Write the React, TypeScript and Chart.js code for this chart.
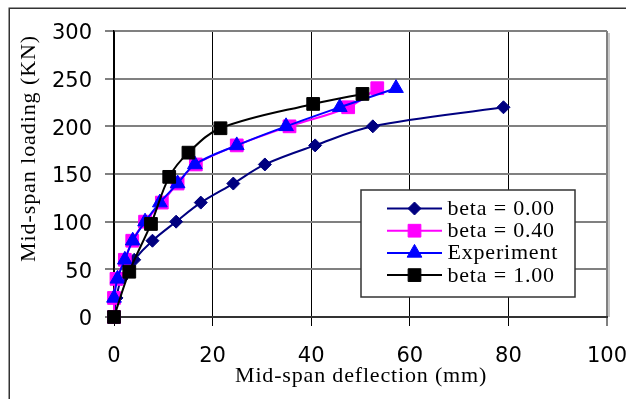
import React, { useEffect, useRef } from 'react';
import { Chart, registerables } from 'chart.js';

Chart.register(...registerables);

const seriesNames = ['beta = 0.00', 'beta = 0.40', 'Experiment', 'beta = 1.00'];
const xTitle = 'Mid-span deflection (mm)';
const yTitle = 'Mid-span loading (KN)';

const beta0X = [0, 0.5, 1.5, 4.1, 7.8, 12.6, 17.6, 24.2, 30.6, 40.8, 52.5, 79];
const beta0Y = [0, 20, 40, 60, 80, 100, 120, 140, 160, 180, 200, 220];

const beta04X = [0, 0, 0.5, 2.2, 3.7, 6.3, 9.7, 12.9, 16.6, 24.9, 35.6, 47.5, 53.4];
const beta04Y = [0, 20, 40, 60, 80, 100, 120, 140, 160, 180, 200, 220, 240];

const expX = [0, 0.7, 2.2, 3.8, 6.3, 9.3, 12.9, 16.4, 24.9, 34.9, 45.8, 57.2];
const expY = [20, 40, 60, 80, 100, 120, 140, 160, 180, 200, 220, 240];

const beta1X = [0, 3.1, 7.5, 11.2, 15.1, 21.6, 40.4, 50.4];
const beta1Y = [0, 47.5, 97.6, 147, 172.4, 198, 223.5, 234];

const xTicks = [0, 20, 40, 60, 80, 100];
const yTicks = [0, 50, 100, 150, 200, 250, 300];

const colors = ['#000080', '#FF00FF', '#0000FF', '#000000'];
const styles = ['rectRot', 'rect', 'triangle', 'rect'];
const radii = [6.5, 9, 8.5, 9];

const serif = '"Liberation Serif", "Times New Roman", serif';

const toPts = (xs: number[], ys: number[]) => xs.map((x, i) => ({ x, y: ys[i] }));

function drawMarker(ctx: CanvasRenderingContext2D, style: string, x: number, y: number, r: number) {
  ctx.beginPath();
  if (style === 'rectRot') {
    ctx.moveTo(x, y - r);
    ctx.lineTo(x + r, y);
    ctx.lineTo(x, y + r);
    ctx.lineTo(x - r, y);
  } else if (style === 'rect') {
    const s = Math.SQRT1_2 * r;
    ctx.rect(x - s, y - s, 2 * s, 2 * s);
  } else {
    for (let k = 0; k < 3; k++) {
      const a = (k * 2 * Math.PI) / 3;
      const px = x + Math.sin(a) * r;
      const py = y - Math.cos(a) * r;
      if (k === 0) ctx.moveTo(px, py);
      else ctx.lineTo(px, py);
    }
  }
  ctx.closePath();
  ctx.fill();
  ctx.stroke();
}

function fitText(ctx: CanvasRenderingContext2D, text: string, target: number) {
  (ctx as any).letterSpacing = '0px';
  const w = ctx.measureText(text).width;
  const sp = Math.max(0, (target - w) / text.length);
  (ctx as any).letterSpacing = sp.toFixed(2) + 'px';
}

const framePlugin = {
  id: 'frame',
  beforeDraw(chart: any) {
    const ctx = chart.ctx as CanvasRenderingContext2D;
    ctx.save();
    ctx.fillStyle = '#ffffff';
    ctx.fillRect(0, 0, chart.width, chart.height);
    ctx.strokeStyle = '#333333';
    ctx.lineWidth = 1.5;
    ctx.strokeRect(9.25, 8.25, 2000, 2000);
    ctx.restore();
  },
  afterDraw(chart: any) {
    const ctx = chart.ctx as CanvasRenderingContext2D;
    const a = chart.chartArea;
    ctx.save();
    // plot area shadow on the right
    ctx.strokeStyle = '#c8c8c8';
    ctx.lineWidth = 2;
    ctx.beginPath();
    ctx.moveTo(a.right + 2, a.top + 2);
    ctx.lineTo(a.right + 2, a.bottom);
    ctx.stroke();

    // axis titles
    ctx.fillStyle = '#000000';
    ctx.font = '22px ' + serif;
    ctx.textBaseline = 'alphabetic';
    ctx.textAlign = 'left';
    fitText(ctx, xTitle, 252);
    ctx.fillText(xTitle, 235, 381.5);
    ctx.save();
    ctx.translate(35, 262);
    ctx.rotate(-Math.PI / 2);
    fitText(ctx, yTitle, 227);
    ctx.fillText(yTitle, 0, 0);
    ctx.restore();

    // legend
    const lx = 361, ly = 190, lw = 214, lh = 107;
    ctx.fillStyle = '#ffffff';
    ctx.fillRect(lx, ly, lw, lh);
    ctx.strokeStyle = '#333333';
    ctx.lineWidth = 1.5;
    ctx.strokeRect(lx, ly, lw, lh);
    ctx.font = '22px ' + serif;
    (ctx as any).letterSpacing = '0.8px';
    ctx.textBaseline = 'alphabetic';
    ctx.textAlign = 'left';
    for (let i = 0; i < seriesNames.length; i++) {
      const ry = 208.5 + i * 22.2;
      ctx.strokeStyle = colors[i];
      ctx.lineWidth = 2;
      ctx.beginPath();
      ctx.moveTo(387, ry);
      ctx.lineTo(442, ry);
      ctx.stroke();
      ctx.fillStyle = colors[i];
      ctx.lineWidth = 1;
      drawMarker(ctx, styles[i], 414.5, ry, radii[i]);
      ctx.fillStyle = '#000000';
      ctx.fillText(seriesNames[i], 447.5, ry + 6.5);
    }
    ctx.restore();
  },
};

export default function App() {
  const canvasRef = useRef<HTMLCanvasElement | null>(null);

  useEffect(() => {
    if (!canvasRef.current) return;
    const data = [toPts(beta0X, beta0Y), toPts(beta04X, beta04Y), toPts(expX, expY), toPts(beta1X, beta1Y)];
    const tickFont = { family: '"DejaVu Sans", Verdana, sans-serif', size: 21 };
    const chart = new Chart(canvasRef.current, {
      type: 'line',
      data: {
        datasets: seriesNames.map((name, i) => ({
          label: name,
          data: data[i],
          borderColor: colors[i],
          backgroundColor: colors[i],
          pointBackgroundColor: colors[i],
          pointBorderColor: colors[i],
          pointBorderWidth: 1,
          pointStyle: styles[i] as any,
          pointRadius: radii[i],
          borderWidth: 2,
          tension: 0.35,
          fill: false,
          clip: false as any,
          order: 4 - i,
        })),
      },
      options: {
        animation: false,
        responsive: false,
        maintainAspectRatio: false,
        devicePixelRatio: 1,
        layout: { padding: { top: 31, right: 19, left: 0, bottom: 0 } },
        plugins: {
          legend: { display: false },
          tooltip: { enabled: false },
        },
        scales: {
          x: {
            type: 'linear',
            min: 0,
            max: 100,
            afterBuildTicks: (scale: any) => {
              scale.ticks = xTicks.map((v) => ({ value: v }));
            },
            afterFit: (scale: any) => {
              scale.height = 82;
              scale.paddingLeft = 0;
              scale.paddingRight = 0;
            },
            ticks: { font: tickFont, color: '#000', padding: 18, maxRotation: 0, autoSkip: false },
            grid: {
              color: (ctx: any) => (ctx.tick && ctx.tick.value === 100 ? '#808080' : '#000000'),
              lineWidth: (ctx: any) => (ctx.tick && ctx.tick.value === 100 ? 2 : 1),
              tickColor: '#000000',
              tickLength: 9,
              tickWidth: 1,
            },
            border: { display: true, color: '#333333', width: 2 },
          },
          y: {
            type: 'linear',
            min: 0,
            max: 300,
            afterBuildTicks: (scale: any) => {
              scale.ticks = yTicks.map((v) => ({ value: v }));
            },
            afterFit: (scale: any) => {
              scale.width = 114;
              scale.paddingTop = 0;
              scale.paddingBottom = 0;
            },
            ticks: { font: tickFont, color: '#000', padding: 13, labelOffset: 3 },
            grid: {
              color: '#808080',
              lineWidth: 2,
              tickColor: '#808080',
              tickLength: 9,
            },
            border: { display: true, color: '#000000', width: 1.5 },
          },
        },
      },
      plugins: [framePlugin],
    });
    return () => chart.destroy();
  }, []);

  return (
    <div style={{ position: 'absolute', left: 0, top: 0, width: 626, height: 399 }}>
      <canvas ref={canvasRef} width={626} height={399} style={{ width: 626, height: 399, display: 'block' }} />
    </div>
  );
}
